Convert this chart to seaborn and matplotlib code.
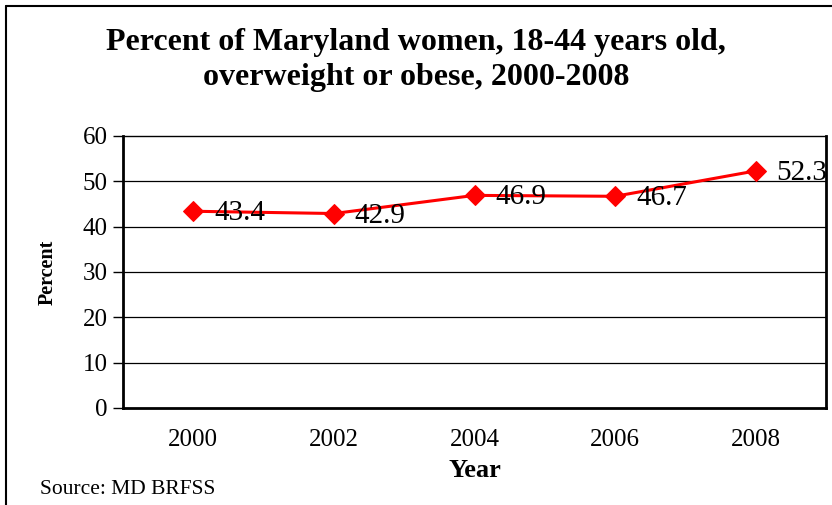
import matplotlib
matplotlib.use("Agg")
import matplotlib.pyplot as plt
import seaborn as sns
import pandas as pd
import numpy as np
from matplotlib.lines import Line2D

years = ["2000", "2002", "2004", "2006", "2008"]
percent = [43.4, 42.9, 46.9, 46.7, 52.3]
yticks = [0, 10, 20, 30, 40, 50, 60]

sns.set_theme(style="white")
plt.rcParams['font.family'] = ['Liberation Serif', 'DejaVu Serif']
plt.rcParams['text.color'] = 'black'
plt.rcParams['axes.labelcolor'] = 'black'
plt.rcParams['xtick.color'] = 'black'
plt.rcParams['ytick.color'] = 'black'

df = pd.DataFrame({"pos": np.arange(len(years)), "year": years, "pct": percent})

fig = plt.figure(figsize=(8.32, 5.05), dpi=100)
ax = fig.add_axes([123/832, 97/505, 703/832, 272/505])

sns.lineplot(data=df, x="pos", y="pct", ax=ax, color="#ff0000", linewidth=2.2,
             marker="D", markersize=10, markeredgecolor="#ff0000", zorder=5)

for p, v in zip(df["pos"], df["pct"]):
    ax.annotate(f"{v}", (p, v), xytext=(15, -1.5), textcoords="offset points",
                ha="left", va="center", fontsize=21, color="black",
                annotation_clip=False, zorder=6)

ax.set_xlim(-0.5, len(years) - 0.5)
ax.set_ylim(0, 60)
ax.set_yticks(yticks)
ax.set_yticklabels([str(t) for t in yticks], fontsize=18)
ax.set_xticks(df["pos"])
ax.set_xticklabels(years, fontsize=18)
ax.set_xticks(np.arange(-0.5, len(years)), minor=True)
ax.tick_params(axis="x", which="major", length=0, pad=15)
ax.tick_params(axis="x", which="minor", length=6, width=1, color="black", direction="out")
ax.tick_params(axis="y", which="major", length=7, width=1, color="black", direction="out", left=True, pad=4)

for t in yticks[1:-1]:
    ax.axhline(t, color="black", linewidth=0.9, zorder=1)

for side in ["left", "bottom", "right"]:
    ax.spines[side].set_visible(True)
    ax.spines[side].set_color("black")
    ax.spines[side].set_linewidth(2)
ax.spines["top"].set_visible(True)
ax.spines["top"].set_color("black")
ax.spines["top"].set_linewidth(1)

ax.set_xlabel("Year", fontsize=19, fontweight="bold", labelpad=6)
ax.set_ylabel("Percent", fontsize=14.5, fontweight="bold", labelpad=18)

fig.text(0.5, 1 - 60/505, "Percent of Maryland women, 18-44 years old,\noverweight or obese, 2000-2008",
         ha="center", va="center", fontsize=23, fontweight="bold", linespacing=1.25)
fig.text(40/832, 1 - 489/505, "Source: MD BRFSS", ha="left", va="center", fontsize=15.5)

fig.add_artist(Line2D([5.5/832, 5.5/832], [0, 1 - 5.5/505], transform=fig.transFigure,
                      color="black", linewidth=1.5))
fig.add_artist(Line2D([5.5/832, 1], [1 - 5.5/505, 1 - 5.5/505], transform=fig.transFigure,
                      color="black", linewidth=1.5))

fig.savefig("out.png", dpi=100)
